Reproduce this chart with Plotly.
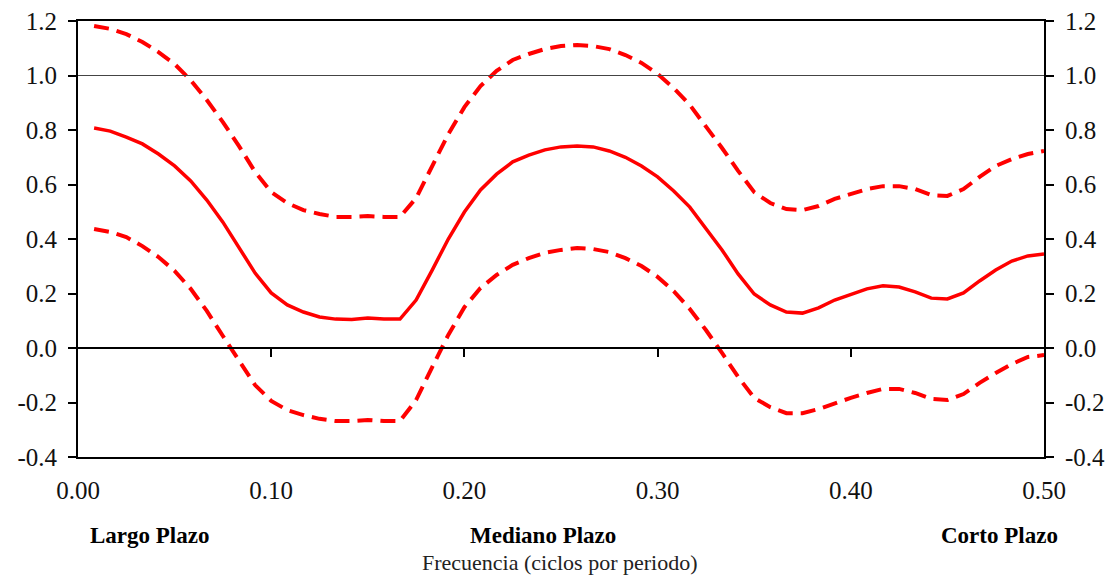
import plotly.graph_objects as go

# Frequencies (cycles per period)
freq = [i / 120 for i in range(1, 61)]

coherence = [0.807, 0.796, 0.774, 0.749, 0.712, 0.668, 0.613, 0.543, 0.462, 0.371,
             0.275, 0.202, 0.158, 0.132, 0.114, 0.106, 0.105, 0.110, 0.106, 0.106,
             0.176, 0.286, 0.400, 0.499, 0.580, 0.638, 0.683, 0.708, 0.727, 0.738,
             0.741, 0.738, 0.723, 0.700, 0.668, 0.628, 0.576, 0.517, 0.440, 0.360,
             0.272, 0.198, 0.158, 0.132, 0.128, 0.147, 0.176, 0.198, 0.217, 0.228,
             0.224, 0.206, 0.183, 0.180, 0.202, 0.246, 0.286, 0.319, 0.338, 0.345]

upper = [1.182, 1.171, 1.152, 1.123, 1.086, 1.042, 0.983, 0.910, 0.829, 0.741,
         0.646, 0.572, 0.532, 0.506, 0.492, 0.481, 0.481, 0.484, 0.481, 0.481,
         0.550, 0.668, 0.785, 0.884, 0.961, 1.017, 1.057, 1.079, 1.097, 1.108,
         1.112, 1.108, 1.097, 1.075, 1.046, 1.006, 0.954, 0.892, 0.815, 0.734,
         0.650, 0.572, 0.532, 0.510, 0.506, 0.521, 0.547, 0.565, 0.583, 0.594,
         0.594, 0.583, 0.561, 0.558, 0.583, 0.628, 0.668, 0.693, 0.712, 0.723]

lower = [0.437, 0.426, 0.407, 0.374, 0.334, 0.283, 0.217, 0.136, 0.044, -0.048,
         -0.136, -0.194, -0.228, -0.246, -0.260, -0.268, -0.268, -0.264, -0.268, -0.268,
         -0.191, -0.070, 0.048, 0.150, 0.220, 0.268, 0.305, 0.330, 0.349, 0.360,
         0.367, 0.363, 0.352, 0.330, 0.301, 0.261, 0.209, 0.143, 0.066, -0.018,
         -0.106, -0.183, -0.217, -0.239, -0.239, -0.224, -0.202, -0.183, -0.165, -0.150,
         -0.150, -0.165, -0.187, -0.191, -0.169, -0.128, -0.092, -0.059, -0.033, -0.026]

x_ticks = [0.0, 0.1, 0.2, 0.3, 0.4, 0.5]
x_tick_labels = ["0.00", "0.10", "0.20", "0.30", "0.40", "0.50"]
y_ticks = [-0.4, -0.2, 0.0, 0.2, 0.4, 0.6, 0.8, 1.0, 1.2]
y_tick_labels = ["-0.4", "-0.2", "0.0", "0.2", "0.4", "0.6", "0.8", "1.0", "1.2"]
ref_level = 1.0
band_labels = ["Largo Plazo", "Mediano Plazo", "Corto Plazo"]
x_title = "Frecuencia (ciclos por periodo)"

FONT = "Liberation Serif"
RED = "#FF0000"

fig = go.Figure()
fig.add_trace(go.Scatter(x=freq, y=upper, mode="lines",
                         line=dict(color=RED, width=4, dash="15px,8px"), showlegend=False))
fig.add_trace(go.Scatter(x=freq, y=lower, mode="lines",
                         line=dict(color=RED, width=4, dash="15px,8px"), showlegend=False))
fig.add_trace(go.Scatter(x=freq, y=coherence, mode="lines",
                         line=dict(color=RED, width=3.5), showlegend=False))
# invisible trace for the secondary axes
fig.add_trace(go.Scatter(x=freq, y=coherence, xaxis="x2", yaxis="y2", mode="lines",
                         line=dict(width=0), hoverinfo="skip", showlegend=False, opacity=0))

fig.add_hline(y=ref_level, line=dict(color="#444444", width=1))

yr = [-0.4, 1.2]
fig.update_layout(
    width=1112, height=575,
    margin=dict(l=78, r=68, t=21, b=118, autoexpand=False),
    paper_bgcolor="white", plot_bgcolor="white",
    font=dict(family=FONT, size=25, color="#111111"),
    xaxis=dict(range=[0, 0.5], tickvals=x_ticks, ticktext=x_tick_labels,
               showgrid=False, zeroline=False, showline=True, linecolor="black",
               linewidth=2, mirror=True, ticks="", ticklabelstandoff=10,
               automargin=False),
    xaxis2=dict(range=[0, 0.5], overlaying="x", anchor="free",
                position=(0 - yr[0]) / (yr[1] - yr[0]),
                tickvals=x_ticks[1:-1], showticklabels=False, ticks="outside",
                ticklen=8, tickwidth=2, tickcolor="black",
                showline=True, linecolor="black", linewidth=2,
                showgrid=False, zeroline=False, automargin=False),
    yaxis=dict(range=yr, tickvals=y_ticks, ticktext=y_tick_labels,
               showgrid=False, zeroline=False, showline=True, linecolor="black",
               linewidth=2, ticks="outside", ticklen=8, tickwidth=2, tickcolor="black",
               ticklabelstandoff=6, automargin=False),
    yaxis2=dict(range=yr, tickvals=y_ticks, ticktext=y_tick_labels, overlaying="y",
                side="right", anchor="x",
                showgrid=False, zeroline=False, showline=True, linecolor="black",
                linewidth=2, ticks="outside", ticklen=8, tickwidth=2, tickcolor="black",
                ticklabelstandoff=6, automargin=False),
)

label_pos = [0.0745, 0.481, 0.954]
for txt, xp in zip(band_labels, label_pos):
    fig.add_annotation(text="<b>" + txt + "</b>", x=xp, y=-0.181, xref="paper", yref="paper",
                       showarrow=False, font=dict(family=FONT, size=23, color="black"),
                       xanchor="center", yanchor="middle")
fig.add_annotation(text=x_title, x=0.499, y=-0.243, xref="paper", yref="paper",
                   showarrow=False, font=dict(family=FONT, size=22, color="#222222"),
                   xanchor="center", yanchor="middle")

fig.write_html("out.html", config={"displayModeBar": False},
               post_script="document.body.style.margin='0';document.body.style.overflow='hidden';")
